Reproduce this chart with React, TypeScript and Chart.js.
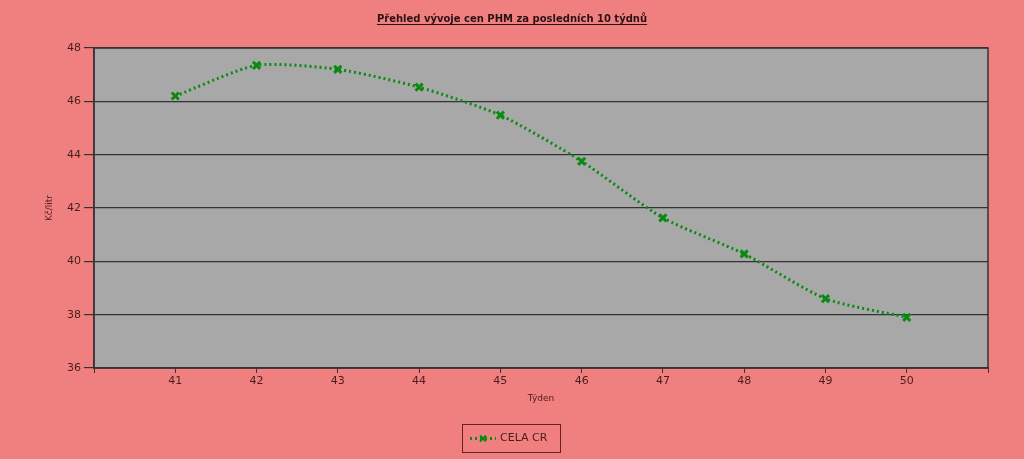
import React, { useEffect, useRef } from "react";
import { Chart, registerables } from "chart.js";

Chart.register(...registerables);

const weeks = [41, 42, 43, 44, 45, 46, 47, 48, 49, 50];
const prices = [46.2, 47.35, 47.2, 46.53, 45.48, 43.75, 41.63, 40.28, 38.6, 37.9];
const seriesLabel = "CELA CR";
const chartTitle = "Přehled vývoje cen PHM za posledních 10 týdnů";
const xTitle = "Týden";
const yTitle = "Kč/litr";

const BG = "#F08080";
const PLOT_BG = "#A8A8A8";
const TEXT = "#4a1c1c";
const GREEN = "#0b8a12";
const FONT = "'DejaVu Sans', Tahoma, sans-serif";

export default function App() {
  const ref = useRef<HTMLCanvasElement | null>(null);

  useEffect(() => {
    if (!ref.current) return;

    const plotPlugin = {
      id: "plotDecor",
      beforeDraw(chart: any) {
        const { ctx, chartArea } = chart;
        ctx.save();
        ctx.fillStyle = BG;
        ctx.fillRect(0, 0, chart.width, chart.height);
        ctx.fillStyle = PLOT_BG;
        ctx.fillRect(chartArea.left, chartArea.top, chartArea.right - chartArea.left, chartArea.bottom - chartArea.top);
        ctx.restore();
      },
      afterDraw(chart: any) {
        const { ctx, chartArea } = chart;
        ctx.save();
        // plot border
        ctx.strokeStyle = "#3c3030";
        ctx.lineWidth = 1.5;
        ctx.strokeRect(chartArea.left, chartArea.top, chartArea.right - chartArea.left, chartArea.bottom - chartArea.top);

        // title with underline
        ctx.font = `bold 10px ${FONT}`;
        ctx.fillStyle = "#2a1212";
        ctx.textAlign = "center";
        ctx.textBaseline = "alphabetic";
        const cx = 512;
        const ty = 22;
        ctx.fillText(chartTitle, cx, ty);
        const w = ctx.measureText(chartTitle).width;
        ctx.strokeStyle = "#2a1212";
        ctx.lineWidth = 1;
        ctx.beginPath();
        ctx.moveTo(cx - w / 2, ty + 2.5);
        ctx.lineTo(cx + w / 2, ty + 2.5);
        ctx.stroke();

        // axis titles
        ctx.font = `9px ${FONT}`;
        ctx.fillStyle = TEXT;
        ctx.textAlign = "center";
        ctx.textBaseline = "middle";
        ctx.fillText(xTitle, (chartArea.left + chartArea.right) / 2, 399);
        ctx.save();
        ctx.translate(50, (chartArea.top + chartArea.bottom) / 2);
        ctx.rotate(-Math.PI / 2);
        ctx.fillText(yTitle, 0, 0);
        ctx.restore();

        // legend
        const lx = 462, ly = 424, lw = 98, lh = 28;
        ctx.strokeStyle = "#6a2020";
        ctx.lineWidth = 1;
        ctx.strokeRect(lx + 0.5, ly + 0.5, lw, lh);
        const my = ly + lh / 2 + 0.5;
        ctx.strokeStyle = GREEN;
        ctx.lineWidth = 3;
        ctx.setLineDash([2, 3]);
        ctx.beginPath();
        ctx.moveTo(lx + 8, my);
        ctx.lineTo(lx + 34, my);
        ctx.stroke();
        ctx.setLineDash([]);
        ctx.lineWidth = 2;
        ctx.beginPath();
        ctx.moveTo(lx + 18, my - 3);
        ctx.lineTo(lx + 24, my + 3);
        ctx.moveTo(lx + 24, my - 3);
        ctx.lineTo(lx + 18, my + 3);
        ctx.stroke();
        ctx.font = `11px ${FONT}`;
        ctx.fillStyle = TEXT;
        ctx.textAlign = "left";
        ctx.textBaseline = "middle";
        ctx.fillText(chart.data.datasets[0].label, lx + 38, my);
        ctx.restore();
      },
    };

    const chart = new Chart(ref.current, {
      type: "line",
      data: {
        datasets: [
          {
            label: seriesLabel,
            data: weeks.map((w, i) => ({ x: w, y: prices[i] })),
            borderColor: GREEN,
            backgroundColor: GREEN,
            borderWidth: 3,
            borderDash: [2, 3],
            tension: 0.22,
            pointStyle: "crossRot",
            pointRadius: 5,
            pointBorderWidth: 3,
            pointBorderColor: GREEN,
            fill: false,
          },
        ],
      },
      options: {
        animation: false,
        responsive: false,
        maintainAspectRatio: false,
        layout: { padding: { top: 48, right: 36, bottom: 41, left: 0 } },
        plugins: {
          legend: { display: false },
          title: { display: false },
          tooltip: { enabled: false },
        },
        scales: {
          x: {
            type: "linear",
            min: 40,
            max: 51,
            afterFit: (s: any) => { s.height = 50; },
            afterBuildTicks: (s: any) => {
              s.ticks = [];
              for (let v = 40; v <= 51; v++) s.ticks.push({ value: v });
            },
            ticks: {
              autoSkip: false,
              maxRotation: 0,
              color: TEXT,
              font: { family: FONT, size: 11 },
              padding: 2,
              callback: (v: any) => (v >= 41 && v <= 50 ? String(v) : ""),
            },
            grid: {
              drawOnChartArea: false,
              drawTicks: true,
              tickLength: 5,
              color: "#4a2a2a",
            },
            border: { display: true, color: "#3c3030", width: 1.5 },
          },
          y: {
            type: "linear",
            min: 36,
            max: 48,
            afterFit: (s: any) => { s.width = 94; },
            ticks: {
              stepSize: 2,
              color: TEXT,
              font: { family: FONT, size: 11 },
              padding: 3,
            },
            grid: {
              drawOnChartArea: true,
              drawTicks: true,
              tickLength: 10,
              color: "#333333",
              lineWidth: 1.2,
            },
            border: { display: true, color: "#3c3030", width: 1.5 },
          },
        },
      },
      plugins: [plotPlugin],
    } as any);

    return () => chart.destroy();
  }, []);

  return (
    <div style={{ position: "absolute", left: 0, top: 0, width: 1024, height: 459, background: BG }}>
      <canvas ref={ref} width={1024} height={459} style={{ display: "block" }} />
    </div>
  );
}
